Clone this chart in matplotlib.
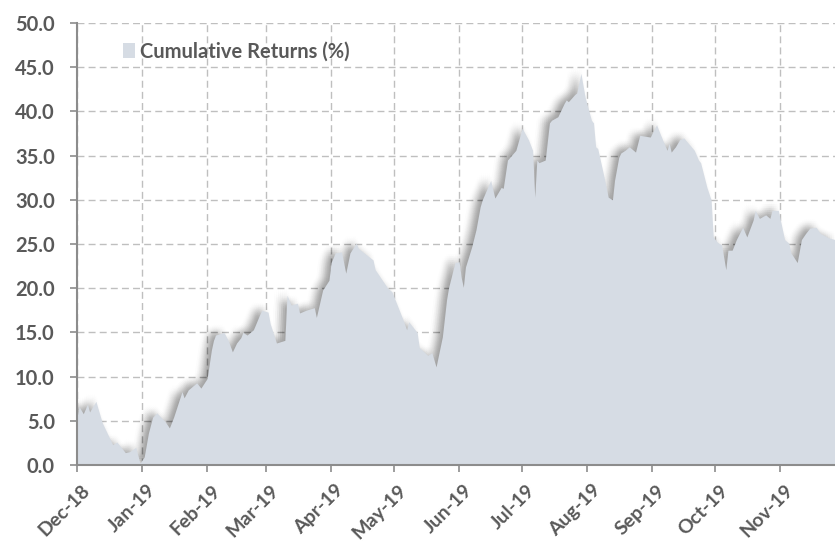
import numpy as np
import pandas as pd
import matplotlib
matplotlib.use("Agg")
import matplotlib.pyplot as plt
import matplotlib.dates as mdates
from matplotlib.transforms import ScaledTranslation

# cumulative returns (dates, % values)
dates = [
    "2018-12-01", "2018-12-02", "2018-12-04", "2018-12-06", "2018-12-07", "2018-12-10",
    "2018-12-13", "2018-12-17", "2018-12-18", "2018-12-20", "2018-12-24", "2018-12-26",
    "2018-12-29", "2018-12-31", "2019-01-02", "2019-01-04", "2019-01-06", "2019-01-08",
    "2019-01-12", "2019-01-14", "2019-01-16", "2019-01-20", "2019-01-21", "2019-01-23",
    "2019-01-27", "2019-01-29", "2019-02-01", "2019-02-03", "2019-02-04", "2019-02-05",
    "2019-02-09", "2019-02-11", "2019-02-13", "2019-02-15", "2019-02-17", "2019-02-18",
    "2019-02-20", "2019-02-23", "2019-02-26", "2019-02-27", "2019-03-02", "2019-03-03",
    "2019-03-06", "2019-03-10", "2019-03-11", "2019-03-13", "2019-03-16", "2019-03-17",
    "2019-03-20", "2019-03-24", "2019-03-25", "2019-03-28", "2019-03-31", "2019-04-01",
    "2019-04-03", "2019-04-06", "2019-04-08", "2019-04-10", "2019-04-13", "2019-04-14",
    "2019-04-21", "2019-04-22", "2019-04-28", "2019-04-30", "2019-05-04", "2019-05-05",
    "2019-05-07", "2019-05-08", "2019-05-12", "2019-05-13", "2019-05-17", "2019-05-19",
    "2019-05-21", "2019-05-24", "2019-05-26", "2019-05-27", "2019-05-30", "2019-06-01",
    "2019-06-02", "2019-06-03", "2019-06-04", "2019-06-07", "2019-06-09", "2019-06-11",
    "2019-06-12", "2019-06-16", "2019-06-18", "2019-06-21", "2019-06-22", "2019-06-24",
    "2019-06-28", "2019-07-01", "2019-07-04", "2019-07-06", "2019-07-07", "2019-07-08",
    "2019-07-09", "2019-07-12", "2019-07-14", "2019-07-15", "2019-07-18", "2019-07-21",
    "2019-07-22", "2019-07-23", "2019-07-26", "2019-07-27", "2019-07-29", "2019-07-31",
    "2019-08-03", "2019-08-04", "2019-08-05", "2019-08-06", "2019-08-09", "2019-08-11",
    "2019-08-13", "2019-08-14", "2019-08-16", "2019-08-17", "2019-08-19", "2019-08-21",
    "2019-08-24", "2019-08-26", "2019-08-31", "2019-09-03", "2019-09-05", "2019-09-08",
    "2019-09-09", "2019-09-10", "2019-09-12", "2019-09-14", "2019-09-16", "2019-09-21",
    "2019-09-23", "2019-09-24", "2019-09-27", "2019-09-29", "2019-09-30", "2019-10-02",
    "2019-10-04", "2019-10-06", "2019-10-07", "2019-10-09", "2019-10-11", "2019-10-14",
    "2019-10-16", "2019-10-19", "2019-10-20", "2019-10-22", "2019-10-25", "2019-10-27",
    "2019-10-28", "2019-10-31", "2019-11-01", "2019-11-03", "2019-11-05", "2019-11-06",
    "2019-11-09", "2019-11-11", "2019-11-13", "2019-11-15", "2019-11-18", "2019-11-20",
    "2019-11-24", "2019-11-27",
]
returns = [
    5.4, 6.6, 5.8, 6.9, 6.0, 7.2,
    4.8, 2.8, 2.3, 2.6, 1.4, 1.5,
    2.0, 0.2, 0.9, 3.6, 5.4, 5.9,
    4.9, 4.2, 5.4, 8.3, 7.6, 8.5,
    9.3, 8.7, 9.8, 13.0, 14.1, 14.7,
    15.0, 14.1, 12.8, 13.8, 14.4, 15.0,
    14.7, 15.3, 17.0, 17.5, 17.3, 16.0,
    13.8, 14.1, 19.2, 18.1, 18.3, 17.2,
    17.5, 17.8, 16.7, 19.8, 20.9, 22.9,
    24.0, 24.1, 21.7, 24.0, 25.1, 24.5,
    23.2, 22.1, 20.0, 19.6, 17.2, 16.6,
    15.3, 16.2, 15.0, 13.3, 12.4, 12.7,
    11.1, 14.5, 18.7, 20.1, 22.9, 23.0,
    21.2, 20.1, 22.4, 24.7, 26.6, 29.2,
    30.0, 32.2, 30.2, 31.4, 31.3, 34.5,
    35.6, 38.1, 36.8, 35.6, 30.3, 34.5,
    34.2, 34.5, 38.7, 39.0, 39.4, 40.9,
    41.3, 41.1, 41.9, 42.1, 44.3, 41.6,
    39.0, 38.7, 36.0, 35.8, 32.6, 30.3,
    30.0, 32.2, 34.8, 35.3, 35.6, 36.0,
    35.4, 37.3, 37.1, 38.5, 37.3, 35.6,
    36.4, 35.4, 36.0, 36.8, 37.0, 35.6,
    34.5, 34.2, 31.4, 30.0, 25.8, 25.2,
    24.9, 22.1, 24.3, 24.3, 25.5, 26.9,
    25.8, 27.7, 28.8, 27.9, 28.3, 27.9,
    28.8, 28.8, 27.7, 25.5, 25.1, 24.0,
    22.9, 25.5, 26.2, 26.8, 26.9, 26.2,
    25.7, 25.5,
]
month_ticks = pd.date_range("2018-12-01", "2019-11-01", freq="MS")
y_ticks = np.arange(0, 50.1, 5)

dt = pd.to_datetime(dates)
fill_col = "#D6DCE4"
text_col = "#595959"
font = ["Lato", "DejaVu Sans"]

fig = plt.figure(figsize=(8.35, 5.48), dpi=100)
ax = fig.add_axes([0.0922, 0.1515, 0.9078, 0.8065])

# soft blurred shadow: faint copies shifted up-left with gaussian weights
cx, cy, sig, step = -4.2, 1.8, 3.2, 1.4
for ox in np.arange(-3 * sig, 3 * sig + 0.01, step):
    for oy in np.arange(-3 * sig, 3 * sig + 0.01, step):
        d2 = ox * ox + oy * oy
        a = 0.0145 * np.exp(-d2 / (2 * sig * sig))
        if a < 0.003:
            continue
        tr = ax.transData + ScaledTranslation((cx + ox) / 72, (cy + oy) / 72, fig.dpi_scale_trans)
        ax.fill_between(dt, 0, returns, color="black", alpha=a, lw=0, transform=tr, zorder=2)

ax.fill_between(dt, 0, returns, color=fill_col, lw=0, zorder=3, label="Cumulative Returns (%)")

ax.set_xlim(pd.Timestamp("2018-12-01"), pd.Timestamp("2019-11-27"))
ax.set_ylim(0, 50)
ax.set_xticks(month_ticks)
ax.xaxis.set_major_formatter(mdates.DateFormatter("%b-%y"))
ax.set_yticks(y_ticks)
ax.set_yticklabels([f"{v:.1f}" for v in y_ticks])

ax.grid(True, color="#BFBFBF", linestyle=(0, (5, 3)), linewidth=1.0, zorder=0)
ax.set_axisbelow(True)

for s in ["top", "right"]:
    ax.spines[s].set_visible(False)
for s in ["left", "bottom"]:
    ax.spines[s].set_color("#8C8C8C")
    ax.spines[s].set_linewidth(1.5)
    ax.spines[s].set_zorder(5)

ax.tick_params(axis="both", colors="#8C8C8C", length=5, width=1.2, labelcolor=text_col)
ax.tick_params(axis="y", pad=11)
ax.tick_params(axis="x", pad=7)
shift = ScaledTranslation(3 / 72, 0, fig.dpi_scale_trans)
for lab in ax.get_yticklabels():
    lab.set_fontfamily(font)
    lab.set_fontweight("bold")
    lab.set_fontsize(14.5)
for lab in ax.get_xticklabels():
    lab.set_fontfamily(font)
    lab.set_fontweight("bold")
    lab.set_fontsize(14)
    lab.set_rotation(45)
    lab.set_ha("right")
    lab.set_rotation_mode("anchor")
    lab.set_transform(lab.get_transform() + shift)

leg = ax.legend(loc="upper left", bbox_to_anchor=(0.037, 0.999), frameon=False,
                handlelength=0.6, handleheight=0.75, handletextpad=0.25,
                prop={"family": font, "weight": "bold", "size": 14.5})
for t in leg.get_texts():
    t.set_color(text_col)

fig.savefig("out.png", dpi=100)
